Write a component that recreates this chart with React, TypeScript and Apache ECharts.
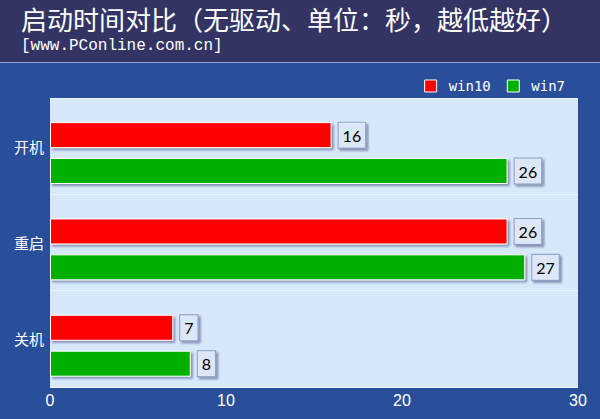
// 启动时间对比 横向柱状图
import { useRef, useEffect } from "react";
import * as echarts from "echarts";

const categories = ["开机", "重启", "关机"];
const win10 = [16, 26, 7];
const win7 = [26, 27, 8];
const xTicks = [0, 10, 20, 30];
// 占位用（把柱子往下推一点，和原图一样）
const spacer = [0, 0, 0];

const labelStyle = {
  show: true,
  position: "right",
  distance: 7,
  color: "#000",
  fontSize: 16,
  fontFamily: "Lato, 'Noto Sans', sans-serif",
  backgroundColor: "#DCE7F7",
  borderColor: "#8C9CC6",
  borderWidth: 1,
  padding: [5, 4, 4, 4],
  shadowColor: "rgba(20,30,80,0.45)",
  shadowOffsetX: 2,
  shadowOffsetY: 2,
  shadowBlur: 2,
};

const barShadow = {
  borderColor: "#fff",
  borderWidth: 1,
  shadowColor: "rgba(30,40,90,0.45)",
  shadowOffsetX: 2,
  shadowOffsetY: 2,
  shadowBlur: 2,
};

const App = () => {
  const chartRef = useRef<HTMLDivElement>(null);

  useEffect(() => {
    const myChart = echarts.init(chartRef.current, null, { renderer: "svg" });
    myChart.setOption({
      animation: false,
      backgroundColor: "#2A4F9A",
      graphic: [
        {
          type: "rect",
          shape: { x: 0, y: 0, width: 600, height: 62 },
          style: { fill: "#333463" },
          z: -1,
        },
        {
          type: "line",
          shape: { x1: 0, y1: 62.5, x2: 600, y2: 62.5 },
          style: { stroke: "#8FA6D6", lineWidth: 1 },
        },
        {
          type: "text",
          left: 21,
          top: 5,
          style: {
            text: "启动时间对比（无驱动、单位：秒，越低越好）",
            fill: "#fff",
            fontSize: 26,
            fontFamily: "'Noto Sans CJK SC', sans-serif",
          },
        },
        {
          type: "text",
          left: 21,
          top: 38,
          style: {
            text: "[www.PConline.com.cn]",
            fill: "#fff",
            fontSize: 16,
            fontFamily: "'Liberation Mono', monospace",
          },
        },
      ],
      legend: {
        data: ["win10", "win7"],
        right: 30,
        top: 74,
        itemWidth: 12,
        itemHeight: 12,
        itemGap: 16,
        icon: "rect",
        itemStyle: { borderColor: "#fff", borderWidth: 1 },
        textStyle: {
          color: "#fff",
          fontSize: 14,
          fontFamily: "'DejaVu Sans Mono', monospace",
          padding: [0, 0, 0, 7],
        },
      },
      grid: {
        left: 50,
        right: 22,
        top: 98,
        bottom: 32,
        show: true,
        backgroundColor: "#D7E8FB",
        borderWidth: 0,
      },
      xAxis: {
        type: "value",
        min: xTicks[0],
        max: xTicks[xTicks.length - 1],
        interval: 10,
        axisLine: { show: false },
        axisTick: { show: false },
        splitLine: { show: false },
        axisLabel: {
          color: "#fff",
          fontSize: 16,
          margin: 5,
          fontFamily: "'Liberation Sans Narrow', 'Liberation Sans', sans-serif",
        },
      },
      yAxis: {
        type: "category",
        data: categories,
        inverse: true,
        axisLine: { show: false },
        axisTick: { show: false },
        splitLine: { show: true, lineStyle: { color: "#EAF3FE", width: 1 } },
        axisLabel: {
          color: "#fff",
          fontSize: 15,
          margin: 6,
          padding: [4, 0, 0, 0],
          fontFamily: "'Noto Sans CJK SC', sans-serif",
        },
      },
      series: [
        {
          name: "spacer",
          type: "bar",
          data: spacer,
          barWidth: 10,
          barGap: "38%",
          silent: true,
          itemStyle: { color: "transparent", borderWidth: 0 },
          label: { show: false },
        },
        {
          name: "win10",
          type: "bar",
          data: win10,
          barWidth: 26,
          barGap: "38%",
          itemStyle: { color: "#FF0000", ...barShadow },
          label: labelStyle,
        },
        {
          name: "win7",
          type: "bar",
          data: win7,
          barWidth: 26,
          barGap: "38%",
          itemStyle: { color: "#00B000", ...barShadow },
          label: labelStyle,
        },
      ],
    });

    return () => {
      myChart.dispose();
    };
  }, []);

  return (
    <div
      ref={chartRef}
      style={{ position: "fixed", left: 0, top: 0, width: "600px", height: "419px" }}
    ></div>
  );
};

export default App;
